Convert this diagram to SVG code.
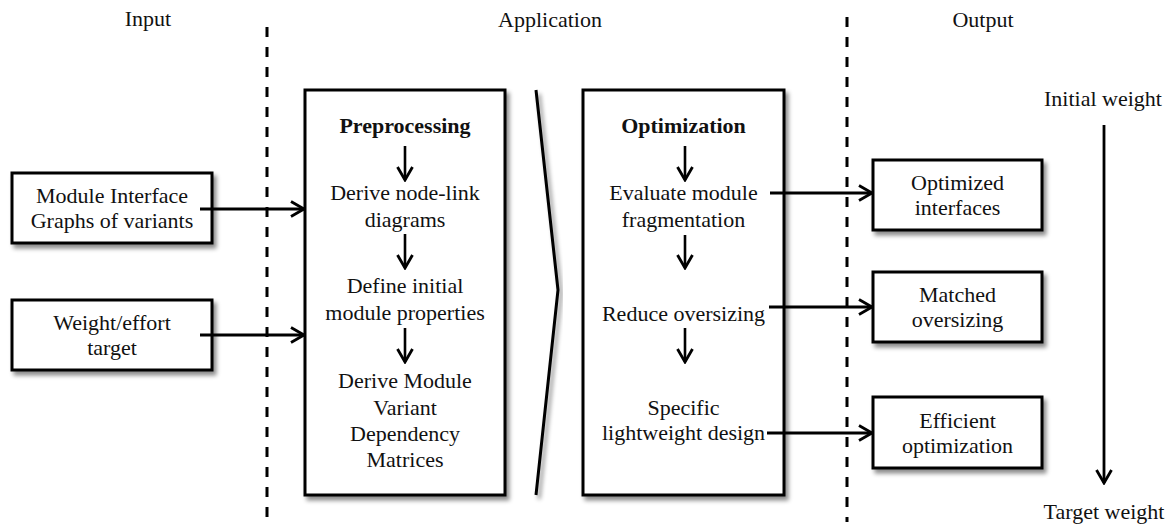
<svg xmlns="http://www.w3.org/2000/svg" width="1175" height="524" viewBox="0 0 1175 524">
  <defs>
    <filter id="shadow" x="-10%" y="-10%" width="130%" height="130%">
      <feDropShadow dx="3" dy="4" stdDeviation="2.2" flood-color="#000" flood-opacity="0.45"/>
    </filter>
    <marker id="arrow" markerUnits="userSpaceOnUse" viewBox="0 0 16 18" markerWidth="16" markerHeight="18" refX="14" refY="9" orient="auto">
      <path d="M1,1.5 L14,9 L1,16.5" fill="none" stroke="#000" stroke-width="2.8"/>
    </marker>
  </defs>
  <style>
    text { font-family: "Liberation Serif", "Times New Roman", serif; font-size: 22px; fill: #111; text-anchor: middle; }
    .bold { font-weight: bold; }
    .box { fill: #fff; stroke: #000; stroke-width: 3; filter: url(#shadow); }
    .link { fill: none; stroke: #000; stroke-width: 2.8; marker-end: url(#arrow); }
    .step { fill: none; stroke: #000; stroke-width: 2.6; marker-end: url(#arrow); }
    .divider { stroke: #000; stroke-width: 3; stroke-dasharray: 10 10; }
  </style>

  <rect width="1175" height="524" fill="#fff"/>

  <!-- column headings and dividers -->
  <g id="headings">
    <text x="148" y="26">Input</text>
    <text x="550" y="27">Application</text>
    <text x="983" y="27">Output</text>
    <line class="divider" x1="267" y1="27" x2="267" y2="522"/>
    <line class="divider" x1="847" y1="17" x2="847" y2="522"/>
  </g>

  <!-- inputs -->
  <g id="input-mig">
    <rect class="box" x="12" y="173" width="200" height="70"/>
    <text x="112" y="203">Module Interface</text>
    <text x="112" y="228">Graphs of variants</text>
  </g>
  <g id="input-target">
    <rect class="box" x="12" y="300" width="200" height="70"/>
    <text x="112" y="330">Weight/effort</text>
    <text x="112" y="355">target</text>
  </g>

  <!-- preprocessing stage -->
  <g id="preprocessing">
    <rect class="box" x="305" y="90" width="200" height="405"/>
    <text class="bold" x="405" y="133">Preprocessing</text>
    <text x="405" y="200">Derive node-link</text>
    <text x="405" y="227">diagrams</text>
    <text x="405" y="293">Define initial</text>
    <text x="405" y="320">module properties</text>
    <text x="405" y="388">Derive Module</text>
    <text x="405" y="415">Variant</text>
    <text x="405" y="441">Dependency</text>
    <text x="405" y="467">Matrices</text>
    <line class="step" x1="405" y1="146" x2="405" y2="180"/>
    <line class="step" x1="405" y1="234" x2="405" y2="268"/>
    <line class="step" x1="405" y1="328" x2="405" y2="362"/>
  </g>

  <!-- stage transition chevron -->
  <g id="chevron">
    <path d="M536,90 L558,290 L536,495" fill="none" stroke="#000" stroke-width="3" stroke-linejoin="miter" filter="url(#shadow)"/>
  </g>

  <!-- optimization stage -->
  <g id="optimization">
    <rect class="box" x="583" y="90" width="201" height="405"/>
    <text class="bold" x="683.5" y="133">Optimization</text>
    <text x="683.5" y="200">Evaluate module</text>
    <text x="683.5" y="227">fragmentation</text>
    <text x="683.5" y="321">Reduce oversizing</text>
    <text x="683.5" y="415">Specific</text>
    <text x="683.5" y="440">lightweight design</text>
    <line class="step" x1="685" y1="146" x2="685" y2="180"/>
    <line class="step" x1="685" y1="235" x2="685" y2="268"/>
    <line class="step" x1="685" y1="328" x2="685" y2="362"/>
  </g>

  <!-- outputs -->
  <g id="output-interfaces">
    <rect class="box" x="873" y="160" width="169" height="70"/>
    <text x="957.5" y="190">Optimized</text>
    <text x="957.5" y="215">interfaces</text>
  </g>
  <g id="output-oversizing">
    <rect class="box" x="873" y="272" width="169" height="70"/>
    <text x="957.5" y="302">Matched</text>
    <text x="957.5" y="327">oversizing</text>
  </g>
  <g id="output-efficient">
    <rect class="box" x="873" y="397" width="169" height="71"/>
    <text x="957.5" y="428">Efficient</text>
    <text x="957.5" y="453">optimization</text>
  </g>

  <!-- weight scale -->
  <g id="weight-scale">
    <text x="1103" y="106">Initial weight</text>
    <text x="1104" y="519">Target weight</text>
  </g>

  <!-- connectors -->
  <g id="connectors">
    <line class="link" x1="200" y1="209" x2="304" y2="209"/>
    <line class="link" x1="200" y1="335" x2="304" y2="335"/>
    <line class="link" x1="770" y1="193" x2="872" y2="193"/>
    <line class="link" x1="769" y1="307" x2="872" y2="307"/>
    <line class="link" x1="767" y1="433" x2="872" y2="433"/>
    <line class="link" x1="1104" y1="125" x2="1104" y2="483"/>
  </g>
</svg>
